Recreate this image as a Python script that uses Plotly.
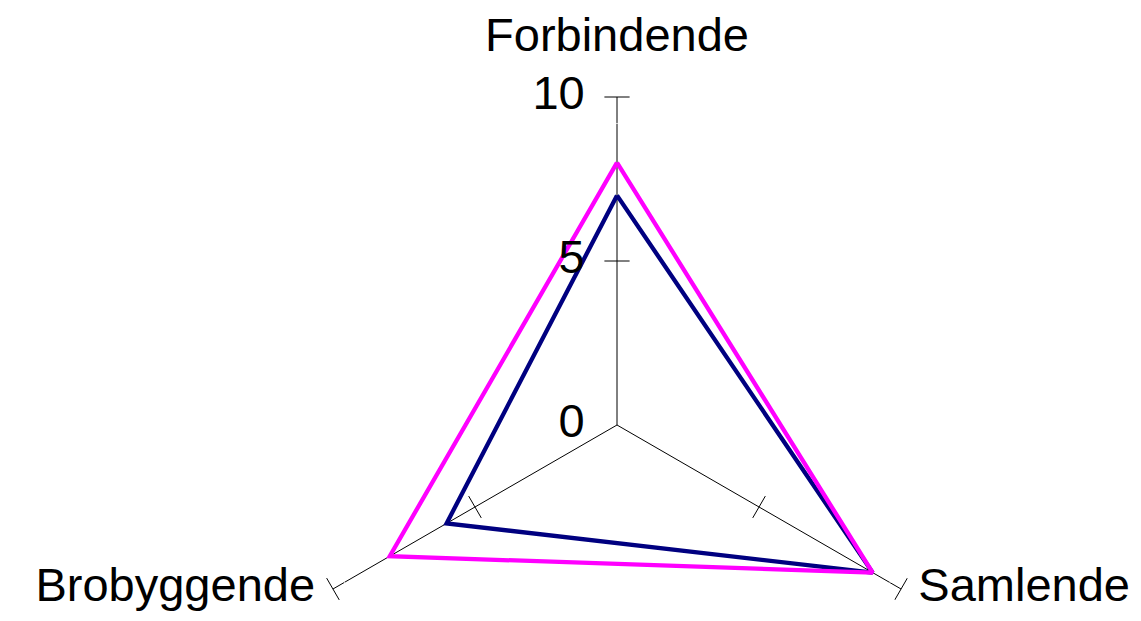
import plotly.graph_objects as go

categories = ["Forbindende", "Samlende", "Brobyggende"]
serie1 = [7, 9, 6]   # navy
serie2 = [8, 9, 8]   # magenta
tick_vals = [0, 5, 10]
tick_text = ["0", "5", "10"]
r_max = 10

font = "Liberation Sans, Arial, sans-serif"
fs = 47

# figure is taller than the window; only the upper part (where the chart is) shows
# (the page body adds an 8px margin, so the centre is shifted back by 8px)
W, H = 1141, 760
cx, cy, R = 609, 417, 328

fig = go.Figure()

# data series (closed polygons)
fig.add_trace(go.Scatterpolar(
    r=serie1 + serie1[:1], theta=categories + categories[:1],
    mode="lines", name="Serie1",
    line=dict(color="#000080", width=4.3)))
fig.add_trace(go.Scatterpolar(
    r=serie2 + serie2[:1], theta=categories + categories[:1],
    mode="lines", name="Serie2",
    line=dict(color="#FF00FF", width=4.3)))

# tick marks at 5 and 10 on every spoke, perpendicular to the spoke
tk_r, tk_t, tk_a = [], [], []
for i, c in enumerate(categories):
    for v in tick_vals[1:]:
        tk_r.append(v)
        tk_t.append(c)
        tk_a.append(120 * i - 180)
fig.add_trace(go.Scatterpolar(
    r=tk_r, theta=tk_t, mode="markers", hoverinfo="skip", cliponaxis=False,
    marker=dict(symbol="line-ew", size=18, angle=tk_a,
                line=dict(color="black", width=1))))

# radial tick labels along the first spoke
fig.add_trace(go.Scatterpolar(
    r=tick_vals, theta=[categories[0]] * len(tick_vals), text=tick_text,
    mode="markers+text", textposition="middle left", hoverinfo="skip",
    cliponaxis=False,
    marker=dict(size=50, color="rgba(0,0,0,0)"),
    textfont=dict(family=font, size=fs, color="black")))

# category labels at the end of each spoke
fig.add_trace(go.Scatterpolar(
    r=[r_max] * len(categories), theta=categories, text=categories,
    mode="markers+text",
    textposition=["top center", "middle right", "middle left"],
    hoverinfo="skip", cliponaxis=False,
    marker=dict(size=[53, 26, 27], color="rgba(0,0,0,0)"),
    textfont=dict(family=font, size=fs, color="black")))

fig.update_layout(
    width=W, height=H,
    margin=dict(l=0, r=0, t=0, b=0),
    paper_bgcolor="white",
    showlegend=False,
    font=dict(family=font, size=fs, color="black"),
    polar=dict(
        domain=dict(x=[(cx - R) / W, (cx + R) / W],
                    y=[1 - (cy + R) / H, 1 - (cy - R) / H]),
        bgcolor="white",
        radialaxis=dict(range=[0, r_max], showticklabels=False, ticks="",
                        showline=False, showgrid=False),
        angularaxis=dict(type="category", categoryarray=categories,
                         rotation=90, direction="clockwise",
                         showline=False, showticklabels=False, ticks="",
                         showgrid=True, gridcolor="black", gridwidth=1),
    ),
)

fig.write_html("out.html")
